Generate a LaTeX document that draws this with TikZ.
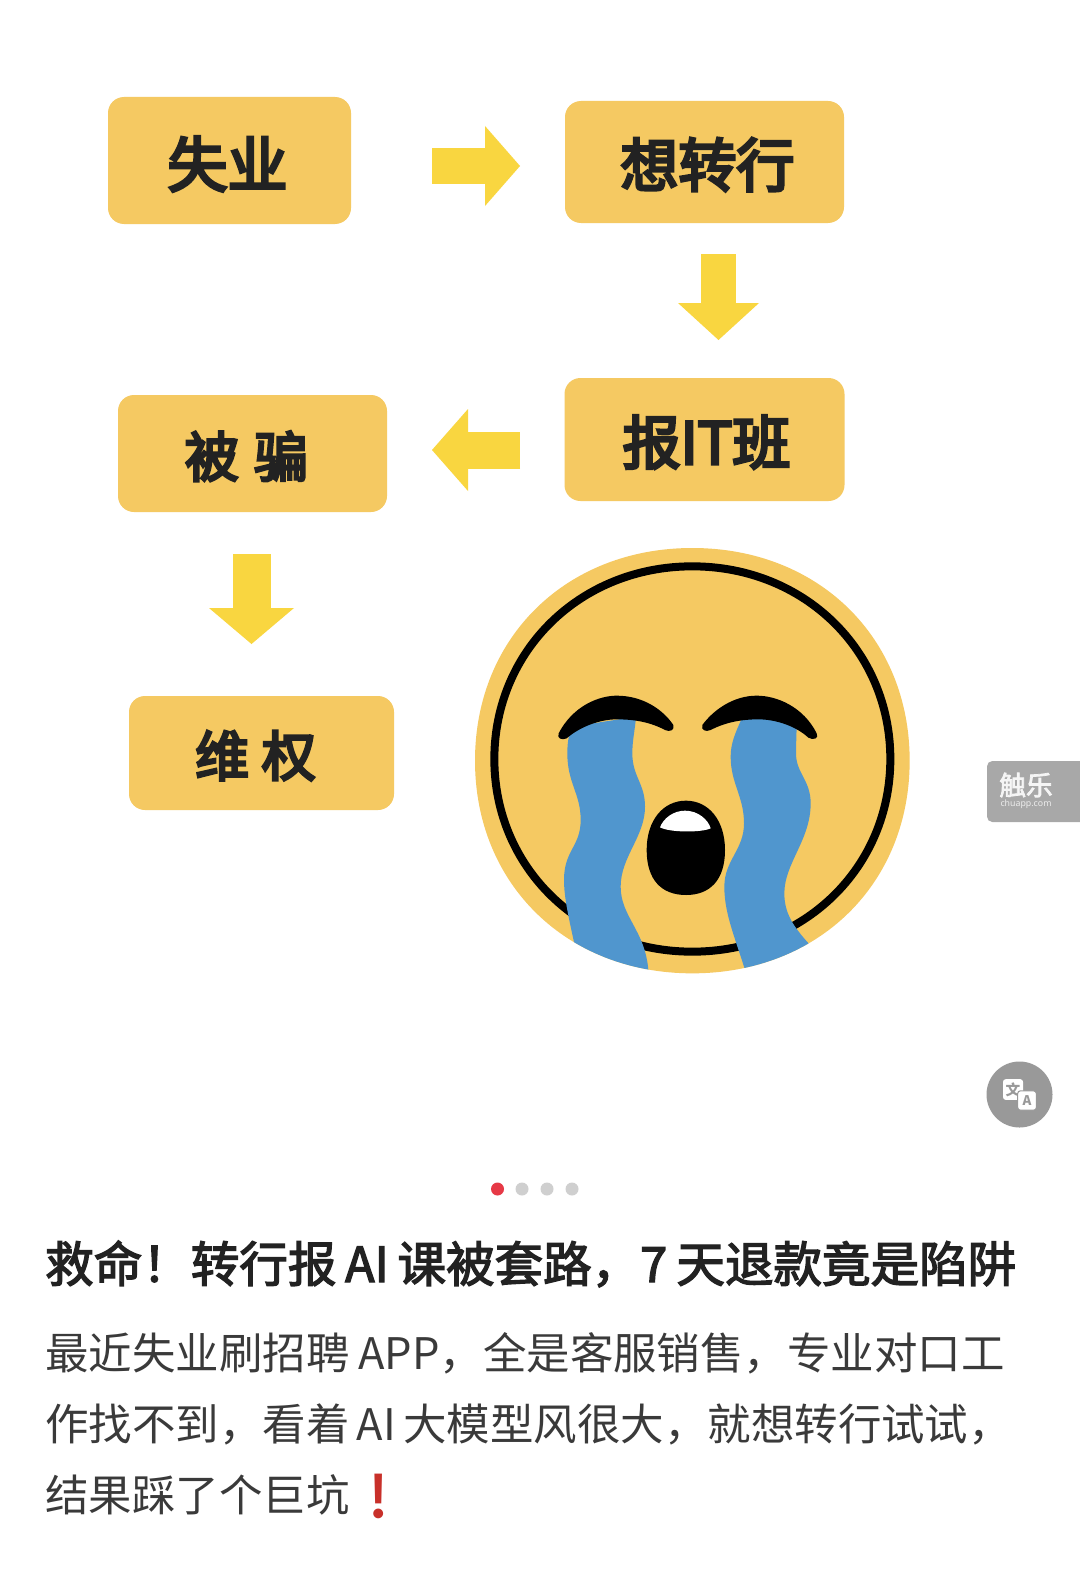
\documentclass[tikz,border=0pt]{standalone}
\usepackage{fontspec}
\setmainfont{Noto Sans CJK SC}
\newfontfamily\emojifont{Noto Emoji}
\newfontfamily\latinfont{Noto Sans}
\newfontfamily\cjkbox[FakeBold=5]{Noto Sans CJK SC}
\newfontfamily\cjktitle[FakeBold=2.8]{Noto Sans CJK SC}
\usetikzlibrary{arrows.meta}
\definecolor{boxy}{HTML}{F5C962}
\definecolor{arrowy}{HTML}{F9D640}
\definecolor{tearb}{HTML}{5096CE}
\definecolor{inkc}{HTML}{222222}
\definecolor{bodyc}{HTML}{3A3A3A}
\definecolor{wmgrey}{HTML}{A8A8A8}
\definecolor{rndgrey}{HTML}{999999}
\definecolor{dotgrey}{HTML}{CFCFCF}
\definecolor{dotred}{HTML}{E63946}
\definecolor{markred}{HTML}{C8302A}
\tikzset{
  flowbox/.style={fill=boxy,rounded corners=12pt,inner sep=0pt},
  boxtext/.style={text=inkc,font=\cjkbox,inner sep=0pt},
  line/.style={anchor=base west,inner sep=0pt,text=bodyc,font=\fontsize{32.6}{33}\selectfont},
  dot/.style={circle,fill=dotgrey,minimum size=9.75pt,inner sep=0pt},
}
\begin{document}
\begin{tikzpicture}[x=0.75pt,y=-0.75pt]
\useasboundingbox[fill=white] (0,0) rectangle (1080,1584);

% flow boxes
\node[flowbox,minimum width=182.25pt,minimum height=95.25pt,
  label={[boxtext,xshift=-1.5pt,yshift=-2.6pt]center:\fontsize{45}{45}\selectfont 失业}] (jobless) at (229.5,160.5) {};
\node[flowbox,minimum width=209.25pt,minimum height=91.5pt,
  label={[boxtext,xshift=2.2pt,yshift=-2pt]center:\fontsize{43.5}{43.5}\selectfont 想转行}] (switch) at (704.5,162) {};
\node[flowbox,minimum width=210pt,minimum height=92.25pt,
  label={[boxtext,xshift=1.5pt,yshift=-2pt]center:\fontsize{43.5}{43.5}\selectfont 报IT班}] (itclass) at (704.5,439.5) {};
\node[flowbox,minimum width=201.75pt,minimum height=87.75pt,
  label={[boxtext,xshift=-4.5pt,yshift=-2pt]center:\fontsize{40.5}{40.5}\selectfont 被\hspace{11.5pt}骗}] (cheated) at (252.5,453.5) {};
\node[flowbox,minimum width=198.75pt,minimum height=85.5pt,
  label={[boxtext,xshift=-4.5pt,yshift=-2pt]center:\fontsize{40.5}{40.5}\selectfont 维\hspace{9.5pt}权}] (rights) at (261.5,753) {};

% block arrows
\coordinate (a1s) at (432,166);   \coordinate (a1e) at (520,166);
\coordinate (a2s) at (718.5,254); \coordinate (a2e) at (718.5,340);
\coordinate (a3s) at (520,450);   \coordinate (a3e) at (432,450);
\coordinate (a4s) at (251.5,554); \coordinate (a4e) at (251.5,644);
\draw[arrowy,line width=27pt,-{Triangle[length=26.25pt,width=60pt,line width=0pt]}] (a1s) -- (a1e);
\draw[arrowy,line width=26.25pt,-{Triangle[length=27.75pt,width=60.75pt,line width=0pt]}] (a2s) -- (a2e);
\draw[arrowy,line width=27.75pt,-{Triangle[length=27pt,width=61.5pt,line width=0pt]}] (a3s) -- (a3e);
\draw[arrowy,line width=28.5pt,-{Triangle[length=27pt,width=63.75pt,line width=0pt]}] (a4s) -- (a4e);

% crying face
\begin{scope}[shift={(460,530)},x=0.25pt,y=-0.25pt]
  \def\blob{(697,54) .. controls (1075,54) and (1349,322) .. (1349,692) .. controls (1349,1062) and (1075,1330) .. (697,1330) .. controls (319,1330) and (45,1062) .. (45,692) .. controls (45,322) and (319,54) .. (697,54) -- cycle}
  \fill[boxy] \blob;
  \draw[black,line width=6pt] (697,109) .. controls (1033,109) and (1291,362) .. (1291,687) .. controls (1291,1012) and (1033,1265) .. (697,1265) .. controls (361,1265) and (103,1012) .. (103,687) .. controls (103,362) and (361,109) .. (697,109) -- cycle;
  \begin{scope}
    \clip \blob;
    \fill[tearb] (335,590) .. controls (325,620) and (322,640) .. (322,670) .. controls (322,760) and (362,790) .. (362,870) .. controls (362,950) and (312,960) .. (312,1050) .. controls (312,1130) and (345,1230) .. (375,1400)
      -- (580,1400) -- (565,1320) .. controls (555,1200) and (482,1160) .. (482,1070) .. controls (482,980) and (555,920) .. (555,830) .. controls (555,760) and (517,740) .. (517,670) .. controls (517,630) and (525,600) .. (528,560) -- cycle;
    \fill[tearb] (848,560) .. controls (825,610) and (812,640) .. (812,680) .. controls (812,760) and (852,800) .. (852,880) .. controls (852,960) and (793,990) .. (793,1070) .. controls (793,1160) and (830,1230) .. (880,1400)
      -- (1120,1400) -- (1050,1245) .. controls (1000,1190) and (973,1150) .. (973,1090) .. controls (973,1000) and (1052,930) .. (1052,820) .. controls (1052,750) and (1008,730) .. (1008,670) .. controls (1008,640) and (1010,610) .. (1010,570) -- cycle;
  \end{scope}
  % brows
  \fill[black] (296,610) .. controls (340,525) and (420,497) .. (470,497) .. controls (550,497) and (610,540) .. (640,585) .. controls (645,600) and (630,607) .. (615,600) .. controls (560,570) and (500,568) .. (470,568) .. controls (420,568) and (360,590) .. (320,625) .. controls (305,632) and (290,625) .. (296,610) -- cycle;
  \fill[black] (1070,610) .. controls (1030,530) and (950,497) .. (890,497) .. controls (820,497) and (760,540) .. (727,585) .. controls (722,600) and (737,607) .. (752,600) .. controls (800,575) and (850,568) .. (895,568) .. controls (950,568) and (1010,590) .. (1045,623) .. controls (1060,632) and (1078,625) .. (1070,610) -- cycle;
  % mouth
  \fill[black] (678,812) .. controls (745,812) and (795,870) .. (795,960) .. controls (795,1050) and (750,1095) .. (678,1095) .. controls (605,1095) and (560,1050) .. (560,960) .. controls (560,870) and (610,812) .. (678,812) -- cycle;
  \fill[white] (675,842) .. controls (715,842) and (745,870) .. (752,895) .. controls (725,908) and (630,908) .. (600,892) .. controls (610,865) and (640,842) .. (675,842) -- cycle;
\end{scope}

% watermark
\fill[wmgrey,rounded corners=4pt] (987,761) -- (1090,761) -- (1090,822) -- (987,822) -- cycle;
\node[text=white!92!gray,inner sep=0pt,font=\cjktitle\fontsize{20}{20}\selectfont] (wmcn) at (1026,785) {触乐};
\node[text=white!85!gray,inner sep=0pt,font=\latinfont\fontsize{6.6}{7}\selectfont] (wmen) at (1026,804) {chuapp.com};

% translate button
\node[circle,fill=rndgrey,minimum size=49.5pt,inner sep=0pt] (trbtn) at (1019.5,1094.5) {};
\node[fill=white,rounded corners=2pt,minimum width=15pt,minimum height=15.5pt,inner sep=0pt,text=rndgrey,font=\bfseries\fontsize{11}{11}\selectfont] (trzh) at (1013,1089.5) {文};
\node[fill=white,draw=rndgrey,line width=0.8pt,rounded corners=2pt,minimum width=14pt,minimum height=14.5pt,inner sep=0pt,text=rndgrey,font=\bfseries\fontsize{10}{10}\selectfont] (tren) at (1027,1100.5) {A};

% pager dots
\node[dot,fill=dotred] (d1) at (497.5,1189) {};
\node[dot] (d2) at (522,1189) {};
\node[dot] (d3) at (547,1189) {};
\node[dot] (d4) at (572,1189) {};

% text
\node[line,text=inkc,font=\cjktitle\fontsize{36.4}{36.4}\selectfont] (title) at (45,1282) {救命！转行报\hspace{6.5pt}AI\hspace{6.5pt}课被套路，7\hspace{7pt}天退款竟是陷阱};
\node[line] (l1) at (45,1369) {最近失业刷招聘\hspace{6.5pt}APP，全是客服销售，专业对口工};
\node[line] (l2) at (45,1440) {作找不到，看着\hspace{5.5pt}AI\hspace{5.5pt}大模型风很大，就想转行试试，};
\node[line] (l3) at (45,1511) {结果踩了个巨坑};
\node[anchor=base west,inner sep=0pt,text=markred,font=\emojifont\fontsize{33}{33}\selectfont] (mark) at (350,1511) {❗};
\end{tikzpicture}
\end{document}
